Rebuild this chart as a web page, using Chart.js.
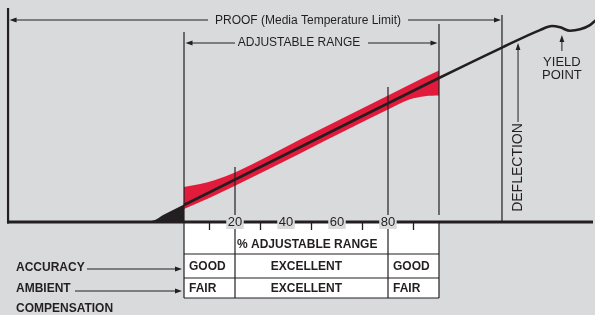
<!DOCTYPE html>
<html>
<head>
<meta charset="utf-8">
<script src="https://cdn.jsdelivr.net/npm/chart.js@4.4.1/dist/chart.umd.min.js"></script>
<style>
  html, body { margin: 0; padding: 0; background: #d9dadc; }
  canvas { display: block; }
</style>
</head>
<body>
<canvas id="chart" width="595" height="315"></canvas>
<script>
const INK = '#231f20';
const BAND_RED = '#e21b3c';
const PAPER = '#d9dadc';
const FONT = '"Liberation Sans", Arial, sans-serif';

// x = % of adjustable range, y = deflection (100 = deflection at full adjustable range)
const curveX = [0, 50, 100, 124.3, 139.6, 144.3, 147.5, 151.4, 155.3, 159.2, 161.6];
const curveY = [11.8, 55.9, 100, 120.8, 133.3, 136.1, 135.2, 132.8, 133.8, 136.8, 140.3];

// black toe below the start of the range
const toeX = [-15.3, -11.4, -8.2, -4.3, 0];
const toeY = [0, 1.4, 4.9, 8.3, 12.2];

// red tolerance band
const bandX = [0, 6.3, 12.2, 20, 45.5, 80.8, 88.6, 94.5, 100];
const bandHigh = [24.3, 26.4, 29.2, 34.4, 57.3, 88.5, 95.5, 100.7, 105.2];
const bandLow = [9.0, 13.9, 18.6, 25.1, 47.6, 78.8, 85.2, 87.4, 87.8];

const majorTicks = [20, 40, 60, 80];
const minorTicks = [10, 30, 50, 70, 90];
const tableCols = [0, 20, 80, 100];
const accuracyRow = ['GOOD', 'EXCELLENT', 'GOOD'];
const ambientRow = ['FAIR', 'EXCELLENT', 'FAIR'];

const PROOF_LIMIT = 124.7;
const LEFT_WALL = -69;
const DEFLECTION_AT = 131;
const YIELD_AT = 148.2;

const X_MIN = -72.16, X_MAX = 161.18;
const Y_MIN = -64.6, Y_MAX = 154.2;

const pts = (xs, ys) => xs.map((x, i) => ({ x, y: ys[i] }));

function arrow(ctx, x1, y1, x2, y2) {
  const a = Math.atan2(y2 - y1, x2 - x1);
  const len = 7, half = 2.4;
  ctx.beginPath();
  ctx.moveTo(x1, y1);
  ctx.lineTo(x2 - Math.cos(a) * len * 0.8, y2 - Math.sin(a) * len * 0.8);
  ctx.stroke();
  ctx.beginPath();
  ctx.moveTo(x2, y2);
  ctx.lineTo(x2 - Math.cos(a) * len - Math.sin(a) * half, y2 - Math.sin(a) * len + Math.cos(a) * half);
  ctx.lineTo(x2 - Math.cos(a) * len + Math.sin(a) * half, y2 - Math.sin(a) * len - Math.cos(a) * half);
  ctx.closePath();
  ctx.fill();
}

function vline(ctx, x, y1, y2, w) {
  ctx.lineWidth = w;
  ctx.beginPath();
  ctx.moveTo(x, y1);
  ctx.lineTo(x, y2);
  ctx.stroke();
}

const overlay = {
  id: 'overlay',
  afterDatasetsDraw(chart) {
    const { ctx, scales: { x, y } } = chart;
    const px = v => x.getPixelForValue(v);
    const base = y.getPixelForValue(0);
    const rowTop = base, row1 = base + 32, row2 = base + 56, rowEnd = base + 76;
    ctx.save();
    ctx.strokeStyle = INK;
    ctx.fillStyle = INK;

    // Table
    ctx.fillStyle = '#ffffff';
    ctx.fillRect(px(0), rowTop, px(100) - px(0), rowEnd - rowTop);
    ctx.fillStyle = INK;
    ctx.lineWidth = 1.2;
    ctx.beginPath();
    [row1, row2, rowEnd].forEach(r => { ctx.moveTo(px(0), r); ctx.lineTo(px(100), r); });
    ctx.stroke();

    // Range verticals
    vline(ctx, px(0), 32, rowEnd, 1.2);
    vline(ctx, px(20), 167, rowEnd, 1.2);
    vline(ctx, px(80), 87, rowEnd, 1.2);
    vline(ctx, px(100), 24, base - 7, 1.2);
    vline(ctx, px(100), base, rowEnd, 1.2);

    // Left wall + proof limit
    vline(ctx, px(LEFT_WALL), 8, base + 1.5, 2.2);
    vline(ctx, px(PROOF_LIMIT), 15, base, 1.2);

    // Baseline
    ctx.lineWidth = 3;
    ctx.beginPath();
    ctx.moveTo(px(LEFT_WALL) - 1, base);
    ctx.lineTo(593, base);
    ctx.stroke();

    // Minor ticks
    ctx.lineWidth = 1.3;
    ctx.beginPath();
    minorTicks.forEach(t => { ctx.moveTo(px(t), base); ctx.lineTo(px(t), base + 8); });
    ctx.stroke();

    // Major tick labels sitting on the baseline
    ctx.font = '13px ' + FONT;
    ctx.textAlign = 'center';
    ctx.textBaseline = 'middle';
    majorTicks.forEach(t => {
      const label = String(t);
      const w = ctx.measureText(label).width + 3;
      ctx.fillStyle = PAPER;
      ctx.fillRect(px(t) - w / 2, base - 7, w, 14);
      ctx.fillStyle = INK;
      ctx.fillText(label, px(t), base + 0.5);
    });

    // Table text
    ctx.font = 'bold 12px ' + FONT;
    ctx.textAlign = 'left';
    ctx.fillText('% ADJUSTABLE RANGE', px(20) + 2, 245);
    const rowText = (cells, yy) => {
      ctx.textAlign = 'left';
      ctx.fillText(cells[0], px(tableCols[0]) + 5, yy);
      ctx.textAlign = 'center';
      ctx.fillText(cells[1], px(48), yy);
      ctx.textAlign = 'left';
      ctx.fillText(cells[2], px(tableCols[2]) + 5, yy);
    };
    rowText(accuracyRow, 267);
    rowText(ambientRow, 288.5);

    // Row labels at left
    ctx.textAlign = 'left';
    ctx.fillText('ACCURACY', 16, 267.5);
    ctx.fillText('AMBIENT', 16, 288.5);
    ctx.fillText('COMPENSATION', 16, 309);
    ctx.lineWidth = 1;
    arrow(ctx, 87, 269, px(0) - 2, 269);
    arrow(ctx, 75, 291, px(0) - 2, 291);

    // Top dimension arrows
    ctx.font = '12px ' + FONT;
    ctx.textAlign = 'center';
    ctx.fillText('PROOF (Media Temperature Limit)', 308, 20.5);
    arrow(ctx, 208, 20, px(LEFT_WALL) + 1.5, 20);
    arrow(ctx, 408, 20, px(PROOF_LIMIT) - 1, 20);
    ctx.fillText('ADJUSTABLE RANGE', 299, 43);
    arrow(ctx, 235, 43, px(0) + 1.5, 43);
    arrow(ctx, 368, 43, px(100) - 1.5, 43);

    // Deflection
    const dx = px(DEFLECTION_AT);
    arrow(ctx, dx, 122, dx, 43);
    ctx.save();
    ctx.translate(dx, 167.5);
    ctx.rotate(-Math.PI / 2);
    ctx.font = '14px ' + FONT;
    ctx.textAlign = 'center';
    ctx.fillText('DEFLECTION', 0, 0.5);
    ctx.restore();

    // Yield point
    const yx = px(YIELD_AT);
    arrow(ctx, yx, 51, yx, 35);
    ctx.font = '13px ' + FONT;
    ctx.textAlign = 'center';
    ctx.fillText('YIELD', yx, 62);
    ctx.fillText('POINT', yx, 75.5);

    ctx.restore();
  }
};

new Chart(document.getElementById('chart'), {
  type: 'line',
  data: {
    datasets: [
      { data: pts(curveX, curveY), borderColor: INK, borderWidth: 2.6, pointRadius: 0, fill: false,
        cubicInterpolationMode: 'monotone', order: 0 },
      { data: pts(toeX, toeY), borderWidth: 0, borderColor: 'rgba(0,0,0,0)', backgroundColor: INK, fill: 'origin',
        pointRadius: 0, cubicInterpolationMode: 'monotone', order: 1 },
      { data: pts(bandX, bandHigh), borderWidth: 0, borderColor: 'rgba(0,0,0,0)', backgroundColor: BAND_RED, fill: '+1',
        pointRadius: 0, cubicInterpolationMode: 'monotone', order: 2 },
      { data: pts(bandX, bandLow), borderWidth: 0, borderColor: 'rgba(0,0,0,0)', fill: false,
        pointRadius: 0, cubicInterpolationMode: 'monotone', order: 3 },
    ],
  },
  options: {
    responsive: false,
    animation: false,
    events: [],
    layout: { padding: 0 },
    plugins: { legend: { display: false }, tooltip: { enabled: false } },
    scales: {
      x: { type: 'linear', min: X_MIN, max: X_MAX, display: false },
      y: { type: 'linear', min: Y_MIN, max: Y_MAX, display: false },
    },
  },
  plugins: [overlay],
});
</script>
</body>
</html>
